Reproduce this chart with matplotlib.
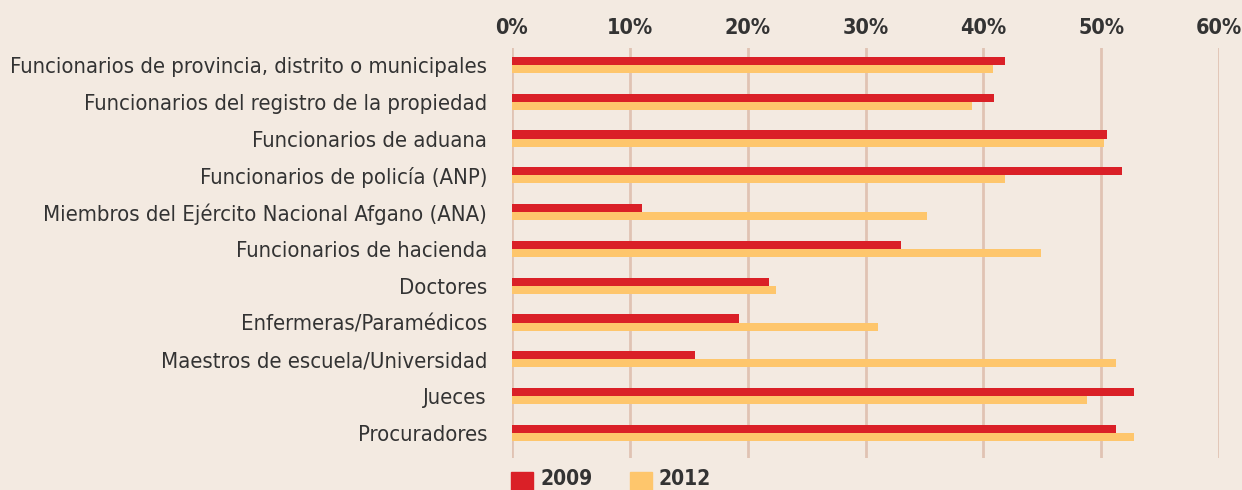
import matplotlib.pyplot as plt
import numpy as np
from matplotlib.patches import Rectangle
from matplotlib import font_manager

categorias = [
    "Funcionarios de provincia, distrito o municipales",
    "Funcionarios del registro de la propiedad",
    "Funcionarios de aduana",
    "Funcionarios de policía (ANP)",
    "Miembros del Ejército Nacional Afgano (ANA)",
    "Funcionarios de hacienda",
    "Doctores",
    "Enfermeras/Paramédicos",
    "Maestros de escuela/Universidad",
    "Jueces",
    "Procuradores",
]
v2009 = [41.8, 40.9, 50.5, 51.8, 11.0, 33.0, 21.8, 19.3, 15.5, 52.8, 51.3]
v2012 = [40.8, 39.0, 50.2, 41.8, 35.2, 44.9, 22.4, 31.1, 51.3, 48.8, 52.8]
ticks = [0, 10, 20, 30, 40, 50, 60]
series = ["2009", "2012"]

bg = "#f3eae1"
rojo = "#da2027"
amarillo = "#fec66c"
texto = "#333333"

names = {f.name for f in font_manager.fontManager.ttflist}
fam = [n for n in ["Liberation Sans Narrow", "DejaVu Sans"] if n in names]
condensed = "condensed"

W, H = 1242, 490
fig = plt.figure(figsize=(W / 100, H / 100), dpi=100, facecolor=bg)
ax = fig.add_axes([512 / W, (H - 458) / H, (1219 - 512) / W, (458 - 48) / H])
ax.set_facecolor(bg)

y = np.arange(len(categorias))
h = 0.22
ax.barh(y - h / 2, v2009, height=h, color=rojo, zorder=3)
ax.barh(y + h / 2, v2012, height=h, color=amarillo, zorder=3)

ax.set_xlim(0, 60)
ax.set_ylim(10.68, -0.46)
ax.set_xticks(ticks)
ax.set_xticklabels([f"{t}%" for t in ticks], fontsize=15.5, fontweight="bold",
                   color=texto, family=fam, fontstretch=condensed)
ax.xaxis.tick_top()
ax.tick_params(axis="x", length=0, pad=7)
ax.set_yticks(y)
ax.set_yticklabels(categorias, fontsize=15.8, color=texto, family=fam,
                   fontstretch=condensed)
ax.tick_params(axis="y", length=0, pad=18)
for t in ticks:
    ax.axvline(t, color="#e0c3b3", lw=2, zorder=1)
for s in ax.spines.values():
    s.set_visible(False)

# leyenda
for i, (lab, col) in enumerate(zip(series, [rojo, amarillo])):
    x0 = 511 + i * 119
    fig.add_artist(Rectangle((x0 / W, 0), 22 / W, 18 / H, color=col,
                             transform=fig.transFigure))
    fig.text((x0 + 29) / W, 5 / H, lab, fontsize=15, fontweight="bold",
             color=texto, family=fam, fontstretch=condensed, va="baseline")

fig.savefig("out.png", dpi=100, facecolor=bg)
